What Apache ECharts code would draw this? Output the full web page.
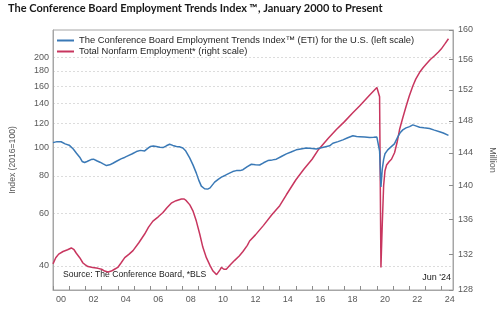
<!DOCTYPE html>
<html><head><meta charset="utf-8">
<script src="https://cdn.jsdelivr.net/npm/echarts@6/dist/echarts.min.js"></script>
<style>html,body{margin:0;padding:0;background:#fff}#c{width:500px;height:317px}</style>
</head><body><div id="c"></div>
<script>
// ETI (left scale, log) — decimal year, index value
const etiDates = [2000.00,2000.25,2000.50,2000.75,2001.00,2001.25,2001.45,2001.65,2001.80,2001.95,2002.10,2002.35,2002.50,2002.70,2002.90,2003.10,2003.30,2003.50,2003.70,2003.95,2004.20,2004.45,2004.65,2004.90,2005.15,2005.40,2005.66,2005.85,2006.00,2006.20,2006.38,2006.60,2006.79,2007.00,2007.20,2007.40,2007.62,2007.80,2008.02,2008.20,2008.44,2008.65,2008.85,2009.00,2009.16,2009.36,2009.55,2009.70,2009.98,2010.20,2010.40,2010.65,2010.90,2011.10,2011.32,2011.55,2011.73,2012.00,2012.25,2012.50,2012.76,2013.00,2013.27,2013.55,2013.79,2014.10,2014.41,2014.70,2015.02,2015.30,2015.64,2016.00,2016.26,2016.50,2016.77,2017.08,2017.28,2017.60,2017.90,2018.20,2018.52,2018.75,2018.93,2019.25,2019.55,2019.80,2020.00,2020.083,2020.167,2020.25,2020.333,2020.417,2020.50,2020.67,2020.89,2021.08,2021.30,2021.45,2021.60,2021.80,2022.02,2022.22,2022.40,2022.64,2022.90,2023.25,2023.55,2023.87,2024.10,2024.42];
const etiValues = [103.5,104.3,104.2,102.5,101.5,98.5,95.4,92.5,89.5,88.8,89.5,90.8,91.1,90.0,89.0,87.8,86.7,87.2,88.3,89.8,91.3,92.5,93.6,95.0,96.6,97.5,97.1,99.0,100.4,100.8,100.4,99.8,99.6,101.0,102.2,101.3,100.4,100.2,99.3,97.0,92.0,87.0,81.8,77.5,74.0,72.5,72.3,73.0,76.3,78.0,79.3,80.5,81.8,82.8,83.4,83.4,84.0,86.0,87.6,87.3,87.1,88.6,90.1,90.6,91.1,93.0,94.9,96.3,97.9,98.6,99.3,99.0,98.6,99.3,100.1,101.0,103.0,104.3,105.7,107.5,109.2,108.6,108.4,108.0,107.6,107.8,108.0,106.5,97.0,73.5,84.5,91.0,95.0,97.9,100.4,102.5,108.4,112.0,114.2,116.0,117.1,118.7,117.8,116.5,116.0,115.4,114.0,112.6,111.5,109.5];
// Total nonfarm employment (right scale, millions)
const nfpDates = [2000.00,2000.17,2000.35,2000.62,2000.90,2001.13,2001.30,2001.44,2001.65,2001.85,2002.00,2002.16,2002.45,2002.78,2003.00,2003.19,2003.40,2003.60,2003.80,2004.00,2004.20,2004.43,2004.70,2004.94,2005.30,2005.66,2005.90,2006.17,2006.50,2006.79,2007.05,2007.30,2007.60,2007.93,2008.10,2008.23,2008.45,2008.64,2008.85,2009.06,2009.25,2009.47,2009.70,2009.88,2010.10,2010.19,2010.30,2010.40,2010.55,2010.70,2010.95,2011.22,2011.50,2011.73,2012.00,2012.14,2012.50,2013.00,2013.50,2014.00,2014.41,2015.00,2015.50,2016.00,2016.36,2017.00,2017.50,2018.00,2018.50,2018.93,2019.50,2020.00,2020.083,2020.167,2020.25,2020.333,2020.417,2020.50,2020.60,2020.75,2020.90,2021.09,2021.25,2021.40,2021.60,2021.81,2022.00,2022.22,2022.40,2022.64,2022.85,2023.05,2023.30,2023.56,2023.80,2023.97,2024.20,2024.42];
const nfpValues = [130.9,131.6,132.0,132.3,132.5,132.7,132.5,132.1,131.6,131.0,130.8,130.6,130.5,130.4,130.3,130.1,130.0,130.1,130.3,130.5,131.0,131.6,132.0,132.4,133.3,134.3,135.1,135.8,136.3,136.8,137.4,137.9,138.2,138.4,138.4,138.2,137.7,137.0,135.8,134.3,132.8,131.6,130.7,130.1,129.7,129.7,130.2,130.5,130.3,130.3,130.8,131.3,131.8,132.3,133.0,133.5,134.2,135.3,136.5,137.6,138.9,140.7,142.0,143.2,144.3,145.8,146.9,147.9,149.0,149.9,151.2,152.3,152.5,151.1,130.5,135.5,140.0,141.8,142.5,142.9,143.2,144.0,145.3,146.9,148.4,149.9,151.2,152.5,153.4,154.3,154.9,155.4,156.0,156.5,157.0,157.4,158.1,158.8];
const leftTicks = [40,60,80,100,120,140,160,180,200];
const rightTicks = [128,132,136,140,144,148,152,156,160];
const yearTicks = [2000,2001,2002,2003,2004,2005,2006,2007,2008,2009,2010,2011,2012,2013,2014,2015,2016,2017,2018,2019,2020,2021,2022,2023,2024];
const yearLabels = [2000.5,2002.5,2004.5,2006.5,2008.5,2010.5,2012.5,2014.5,2016.5,2018.5,2020.5,2022.5,2024.5];
const seriesNames = ['The Conference Board Employment Trends Index™ (ETI) for the U.S. (left scale)','Total Nonfarm Employment* (right scale)'];

const zip = (a,b) => a.map((d,i)=>[d,b[i]]);
const FONT = 'Liberation Sans';
const axisGray = '#a6a6a6';
const labelColor = '#595959';

const chart = echarts.init(document.getElementById('c'), null, {renderer:'canvas'});
chart.setOption({
  animation:false,
  textStyle:{fontFamily:FONT},
  title:{text:'The Conference Board Employment Trends Index ™, January 2000 to Present',left:8,top:3,padding:0,
    textStyle:{fontFamily:'Lato',fontSize:11,fontWeight:'bold',color:'#1a1a1a'}},
  grid:{left:53,right:47,top:30,bottom:27,show:true,borderColor:axisGray,borderWidth:1,outerBoundsMode:'none',containLabel:false},
  legend:{orient:'vertical',left:52,top:31,itemWidth:17,itemHeight:2,itemGap:2,icon:'rect',
    textStyle:{fontFamily:FONT,fontSize:9.4,color:'#262626'},
    data:seriesNames},
  xAxis:{type:'value',min:2000,max:2024.7,
    axisLine:{show:true,lineStyle:{color:axisGray}},
    axisTick:{show:true,inside:true,length:4,lineStyle:{color:'#8c8c8c'},customValues:yearTicks},
    axisLabel:{customValues:yearLabels,color:labelColor,fontSize:9,margin:5,
      formatter:v=>String(Math.floor(v)%100).padStart(2,'0')},
    splitLine:{show:false}},
  yAxis:[
    {type:'log',logBase:10,min:33.2,max:246.8,position:'left',
     name:'Index (2016=100)',nameLocation:'middle',nameGap:36,nameRotate:90,
     nameTextStyle:{color:labelColor,fontSize:8.6,fontFamily:FONT},
     axisLine:{show:true,lineStyle:{color:axisGray}},
     axisTick:{show:false,customValues:leftTicks},
     axisLabel:{customValues:leftTicks,color:labelColor,fontSize:9,margin:4},
     splitLine:{show:true,lineStyle:{color:'#dcdcdc',type:[2,2],width:1}}},
    {type:'log',logBase:10,min:128,max:160,position:'right',
     name:'Million',nameLocation:'middle',nameGap:35,nameRotate:-90,
     nameTextStyle:{color:labelColor,fontSize:9,fontFamily:FONT},
     axisLine:{show:true,lineStyle:{color:axisGray}},
     axisTick:{show:true,inside:true,length:4,lineStyle:{color:'#8c8c8c'},customValues:rightTicks},
     axisLabel:{customValues:rightTicks,color:labelColor,fontSize:9,margin:5},
     splitLine:{show:false}}
  ],
  series:[
    {name:seriesNames[0],type:'line',yAxisIndex:0,showSymbol:false,data:zip(etiDates,etiValues),
     lineStyle:{color:'#3a79b6',width:1.5},itemStyle:{color:'#3a79b6'},z:3},
    {name:seriesNames[1],type:'line',yAxisIndex:1,showSymbol:false,data:zip(nfpDates,nfpValues),
     lineStyle:{color:'#c8365f',width:1.5},itemStyle:{color:'#c8365f'},z:2}
  ],
  graphic:[
    {type:'text',left:63,top:270,style:{text:'Source: The Conference Board, *BLS',fontFamily:FONT,fontSize:8.6,fill:'#1a1a1a'}},
    {type:'text',right:49,top:273,style:{text:"Jun '24",fontFamily:FONT,fontSize:9,fill:'#1a1a1a'}}
  ]
});
</script></body></html>
